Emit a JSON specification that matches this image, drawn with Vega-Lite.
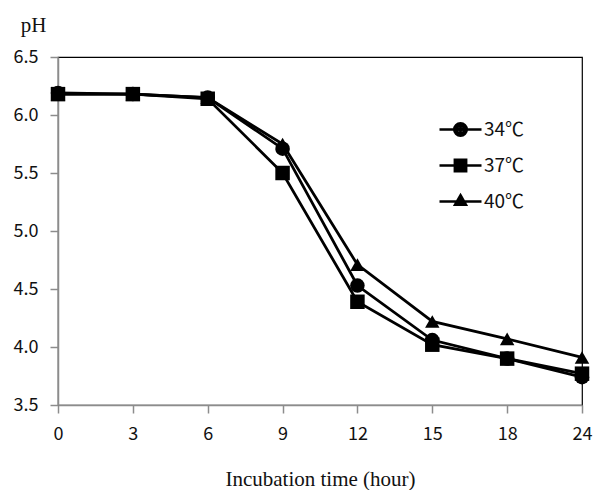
{
  "$schema": "https://vega.github.io/schema/vega-lite/v6.json",
  "width": 524,
  "height": 348,
  "padding": {"left": 58, "top": 57, "right": 12, "bottom": 85},
  "autosize": {"type": "none"},
  "background": "white",
  "config": {
    "view": {"stroke": "black", "strokeWidth": 1.2},
    "axis": {
      "grid": false,
      "domainColor": "#8c8c8c",
      "domainWidth": 1.5,
      "tickColor": "#8c8c8c",
      "tickWidth": 1.5,
      "tickSize": 8,
      "labelFont": "Noto Sans CJK KR",
      "labelFontSize": 18,
      "labelColor": "#111",
      "titleFont": "Liberation Serif",
      "titleFontWeight": "normal",
      "titleFontSize": 21,
      "titleColor": "#111"
    }
  },
  "data": {
    "values": [
      {"t": 0, "temp": "34℃", "pH": 6.19},
      {"t": 3, "temp": "34℃", "pH": 6.18},
      {"t": 6, "temp": "34℃", "pH": 6.15},
      {"t": 9, "temp": "34℃", "pH": 5.71},
      {"t": 12, "temp": "34℃", "pH": 4.53},
      {"t": 15, "temp": "34℃", "pH": 4.06},
      {"t": 18, "temp": "34℃", "pH": 3.9},
      {"t": 24, "temp": "34℃", "pH": 3.74},
      {"t": 0, "temp": "37℃", "pH": 6.18},
      {"t": 3, "temp": "37℃", "pH": 6.18},
      {"t": 6, "temp": "37℃", "pH": 6.14},
      {"t": 9, "temp": "37℃", "pH": 5.5},
      {"t": 12, "temp": "37℃", "pH": 4.39},
      {"t": 15, "temp": "37℃", "pH": 4.02},
      {"t": 18, "temp": "37℃", "pH": 3.9},
      {"t": 24, "temp": "37℃", "pH": 3.77},
      {"t": 0, "temp": "40℃", "pH": 6.18},
      {"t": 3, "temp": "40℃", "pH": 6.18},
      {"t": 6, "temp": "40℃", "pH": 6.15},
      {"t": 9, "temp": "40℃", "pH": 5.75},
      {"t": 12, "temp": "40℃", "pH": 4.71},
      {"t": 15, "temp": "40℃", "pH": 4.22},
      {"t": 18, "temp": "40℃", "pH": 4.07},
      {"t": 24, "temp": "40℃", "pH": 3.91}
    ]
  },
  "encoding": {
    "x": {
      "field": "t",
      "type": "ordinal",
      "scale": {"type": "point", "padding": 0},
      "axis": {"labelAngle": 0, "labelPadding": 12, "title": "Incubation time (hour)", "titlePadding": 25}
    },
    "y": {
      "field": "pH",
      "type": "quantitative",
      "scale": {"domain": [3.5, 6.5], "nice": false, "zero": false},
      "axis": {
        "values": [3.5, 4, 4.5, 5, 5.5, 6, 6.5],
        "format": ".1f",
        "labelPadding": 12,
        "title": "pH",
        "titleAngle": 0,
        "titleAlign": "center",
        "titleBaseline": "middle",
        "titleX": -25,
        "titleY": -32
      }
    }
  },
  "resolve": {"scale": {"shape": "independent"}, "legend": {"shape": "independent"}},
  "layer": [
    {
      "mark": {"type": "line", "color": "black", "strokeWidth": 2.8},
      "encoding": {"detail": {"field": "temp"}}
    },
    {
      "mark": {"type": "point", "filled": true, "color": "black", "opacity": 1, "size": 210},
      "encoding": {
        "shape": {
          "field": "temp",
          "type": "nominal",
          "scale": {"domain": ["34℃", "37℃", "40℃"], "range": ["circle", "square", "triangle-up"]},
          "legend": null
        }
      }
    },
    {
      "transform": [{"filter": "datum.t < 0"}],
      "mark": {"type": "point", "filled": false, "color": "black", "strokeWidth": 2.5, "opacity": 1},
      "encoding": {
        "shape": {
          "field": "temp",
          "type": "nominal",
          "scale": {
            "domain": ["34℃", "37℃", "40℃"],
            "range": [
              "M-1,0H1M0.3,0A0.3,0.3 0 1,1 -0.3,0A0.3,0.3 0 1,1 0.3,0ZM0.18,0A0.18,0.18 0 1,1 -0.18,0A0.18,0.18 0 1,1 0.18,0ZM0.06,0A0.06,0.06 0 1,1 -0.06,0A0.06,0.06 0 1,1 0.06,0Z",
              "M-1,0H1M-0.27,-0.27H0.27V0.27H-0.27ZM-0.15,-0.15H0.15V0.15H-0.15ZM-0.03,-0.03H0.03V0.03H-0.03Z",
              "M-1,0H1M0,-0.3L0.26,0.15H-0.26ZM0,-0.1L0.087,0.05H-0.087Z"
            ]
          },
          "legend": {
            "title": null,
            "orient": "none",
            "legendX": 380,
            "legendY": 50,
            "labelFont": "Noto Sans CJK KR",
            "labelFontSize": 19,
            "labelColor": "#111",
            "labelOffset": 1,
            "rowPadding": 2,
            "symbolSize": 1764,
            "symbolStrokeWidth": 2.5,
            "symbolStrokeColor": "black",
            "symbolOpacity": 1
          }
        }
      }
    }
  ]
}
